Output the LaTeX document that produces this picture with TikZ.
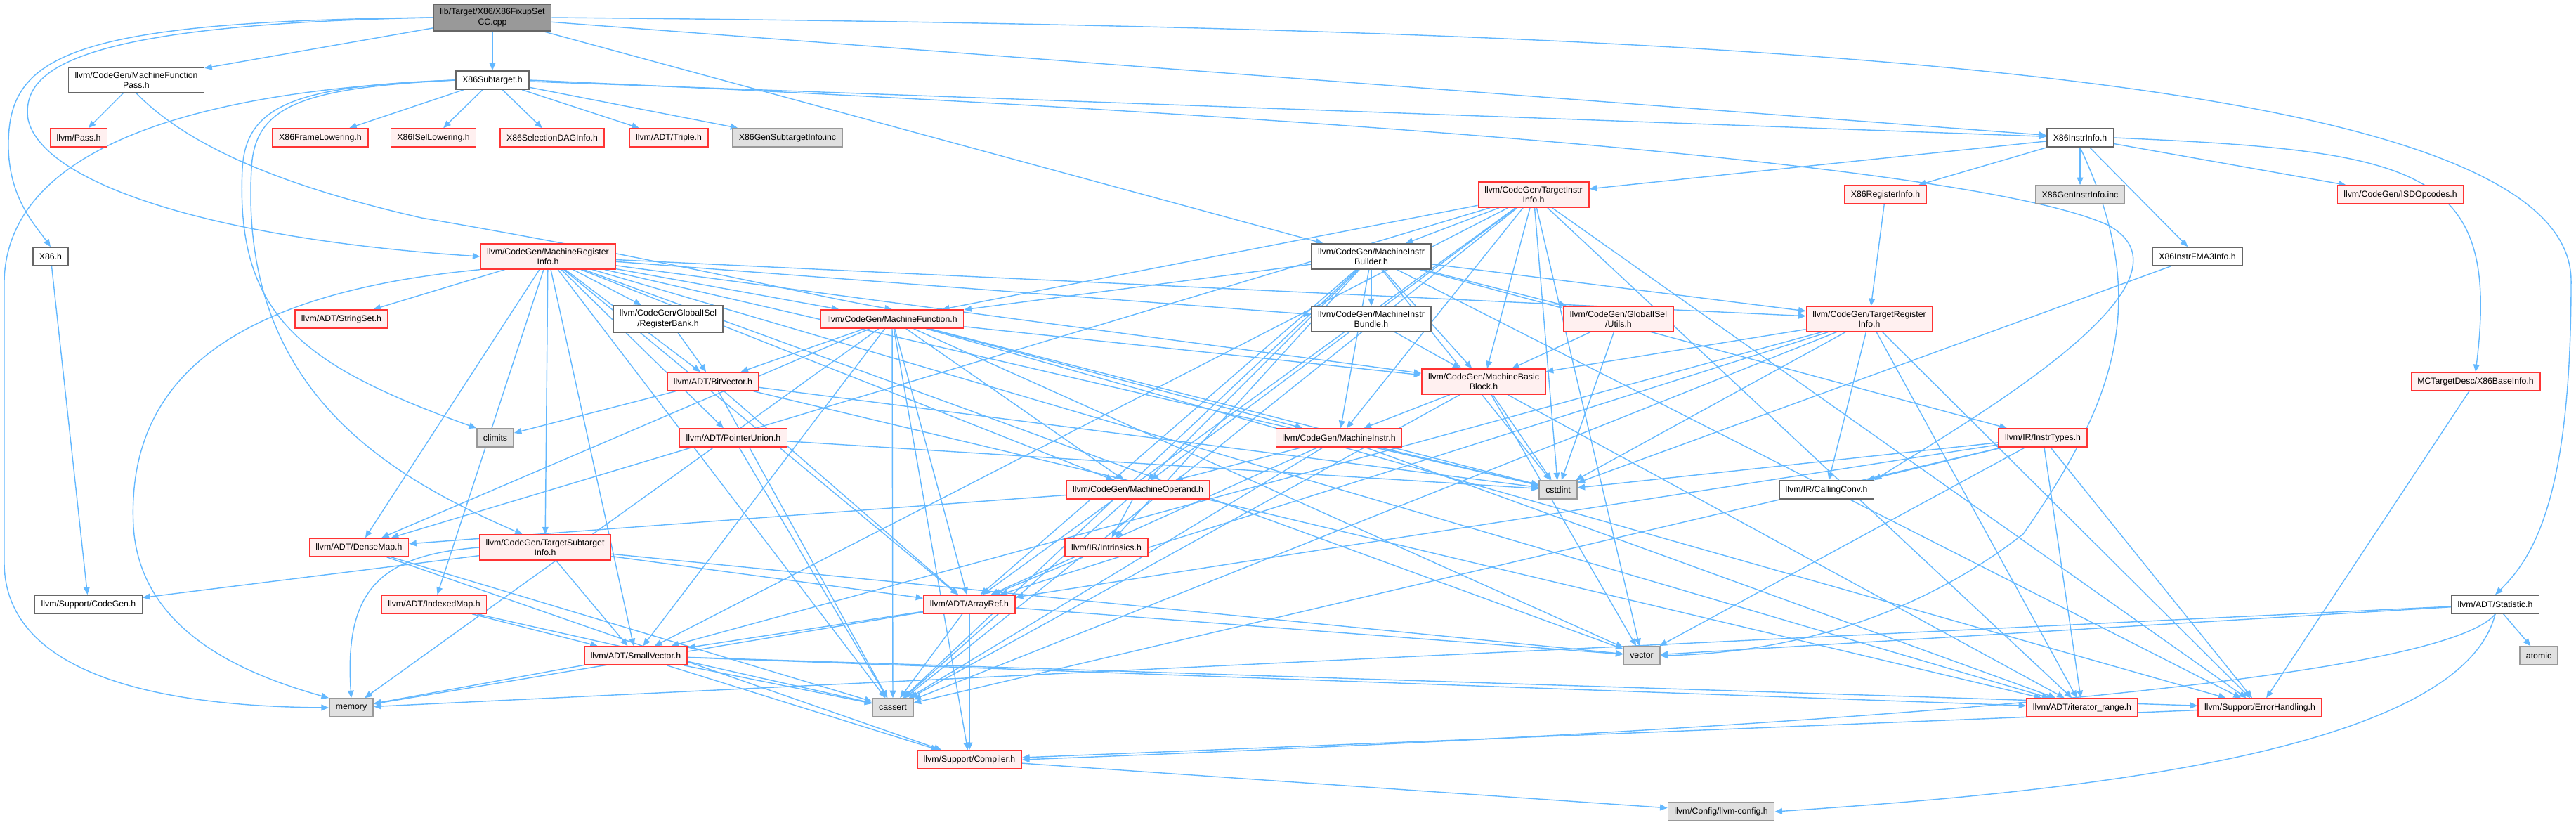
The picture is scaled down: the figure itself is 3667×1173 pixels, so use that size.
\documentclass[tikz,border=0pt]{standalone}
\usepackage{fontspec}
\setmainfont{Liberation Sans}
\usepackage{xcolor}
\usetikzlibrary{arrows.meta}

\definecolor{edgeblue}{HTML}{63B8FF}
\definecolor{hdredge}{HTML}{666666}
\definecolor{rededge}{HTML}{FF3333}
\definecolor{redfill}{HTML}{FFF0F0}
\definecolor{sysedge}{HTML}{999999}
\definecolor{sysfill}{HTML}{E0E0E0}
\definecolor{rootfill}{HTML}{999999}

\pgfdeclarelayer{bg}
\pgfsetlayers{bg,main}

\begin{document}
\begin{tikzpicture}[x=0.02cm, y=-0.02cm,
    hdr/.style={draw=hdredge, fill=white, line width=0.9pt, minimum height=0.52cm,
      inner xsep=0.18cm, inner ysep=3.5pt, align=center, font=\fontsize{7}{8.2}\selectfont},
    redhdr/.style={hdr, draw=rededge, fill=redfill},
    syshdr/.style={hdr, draw=sysedge, fill=sysfill},
    srcfile/.style={hdr, fill=rootfill},
    arr/.style={-{Triangle[length=6pt, width=5pt]}, draw=edgeblue, line width=0.8pt}
  ]
    \useasboundingbox (0,0) rectangle (3667,1173);

    % Top rows
    \node[srcfile] (cpp)   at (701,25)   {lib/Target/X86/X86FixupSet\\CC.cpp};
    \node[hdr]     (mfp)   at (194,114)  {llvm/CodeGen/MachineFunction\\Pass.h};
    \node[hdr]     (sub)   at (701,114)  {X86Subtarget.h};
    \node[hdr]     (instr) at (2961,196) {X86InstrInfo.h};
    \node[redhdr]  (pass)  at (112,196)  {llvm/Pass.h};
    \node[redhdr]  (frame) at (456,196)  {X86FrameLowering.h};
    \node[redhdr]  (isel)  at (617,196)  {X86ISelLowering.h};
    \node[redhdr]  (sdag)  at (786,196)  {X86SelectionDAGInfo.h};
    \node[redhdr]  (triple) at (952,196) {llvm/ADT/Triple.h};
    \node[syshdr]  (gensub) at (1121,196) {X86GenSubtargetInfo.inc};
    \node[redhdr]  (tii)   at (2183,277) {llvm/CodeGen/TargetInstr\\Info.h};
    \node[redhdr]  (x86reg) at (2684,277) {X86RegisterInfo.h};
    \node[syshdr]  (geninstr) at (2961,277) {X86GenInstrInfo.inc};
    \node[redhdr]  (isd)   at (3417,277) {llvm/CodeGen/ISDOpcodes.h};

    % Middle rows
    \node[hdr]     (x86h)  at (72,365)   {X86.h};
    \node[redhdr]  (mri)   at (780,365)  {llvm/CodeGen/MachineRegister\\Info.h};
    \node[hdr]     (mib)   at (1952,365) {llvm/CodeGen/MachineInstr\\Builder.h};
    \node[hdr]     (fma3)  at (3128,365) {X86InstrFMA3Info.h};
    \node[redhdr]  (stringset) at (486,454) {llvm/ADT/StringSet.h};
    \node[hdr]     (regbank) at (951,454) {llvm/CodeGen/GlobalISel\\/RegisterBank.h};
    \node[redhdr]  (mf)    at (1270,454) {llvm/CodeGen/MachineFunction.h};
    \node[hdr]     (mibundle) at (1952,454) {llvm/CodeGen/MachineInstr\\Bundle.h};
    \node[redhdr]  (gisutils) at (2304,454) {llvm/CodeGen/GlobalISel\\/Utils.h};
    \node[redhdr]  (tri)   at (2661,454) {llvm/CodeGen/TargetRegister\\Info.h};
    \node[redhdr]  (bitvec) at (1015,543) {llvm/ADT/BitVector.h};
    \node[redhdr]  (mbb)   at (2112,543) {llvm/CodeGen/MachineBasic\\Block.h};
    \node[redhdr]  (baseinfo) at (3524,543) {MCTargetDesc/X86BaseInfo.h};
    \node[syshdr]  (climits) at (705,623) {climits};
    \node[redhdr]  (punion) at (1044,623) {llvm/ADT/PointerUnion.h};
    \node[redhdr]  (mi)    at (1906,623) {llvm/CodeGen/MachineInstr.h};
    \node[redhdr]  (instrtypes) at (2908,623) {llvm/IR/InstrTypes.h};
    \node[redhdr]  (mop)   at (1620,697) {llvm/CodeGen/MachineOperand.h};
    \node[syshdr]  (cstdint) at (2218,697) {cstdint};
    \node[hdr]     (callconv) at (2600,697) {llvm/IR/CallingConv.h};

    % Bottom rows
    \node[redhdr]  (densemap) at (511,779) {llvm/ADT/DenseMap.h};
    \node[redhdr]  (tsi)   at (776,779)  {llvm/CodeGen/TargetSubtarget\\Info.h};
    \node[redhdr]  (intrin) at (1575,779) {llvm/IR/Intrinsics.h};
    \node[hdr]     (cgen)  at (126,860)  {llvm/Support/CodeGen.h};
    \node[redhdr]  (imap)  at (618,860)  {llvm/ADT/IndexedMap.h};
    \node[redhdr]  (arrayref) at (1380,860) {llvm/ADT/ArrayRef.h};
    \node[hdr]     (stat)  at (3552,860) {llvm/ADT/Statistic.h};
    \node[redhdr]  (smallvec) at (905,933) {llvm/ADT/SmallVector.h};
    \node[syshdr]  (vector) at (2337,933) {vector};
    \node[syshdr]  (atomic) at (3614,933) {atomic};
    \node[syshdr]  (memory) at (500,1007) {memory};
    \node[syshdr]  (cassert) at (1271,1007) {cassert};
    \node[redhdr]  (iterrange) at (2964,1007) {llvm/ADT/iterator\_range.h};
    \node[redhdr]  (errh)  at (3217,1007) {llvm/Support/ErrorHandling.h};
    \node[redhdr]  (compiler) at (1380,1081) {llvm/Support/Compiler.h};
    \node[syshdr]  (config) at (2450,1155) {llvm/Config/llvm-config.h};

    \begin{pgfonlayer}{bg}
    % Root file
    \draw[arr] (cpp.west) .. controls (100,30) and (15,80) .. (12,200)
      .. controls (10,280) and (50,320) .. (x86h.north);
    \draw[arr] (cpp.west) .. controls (100,35) and (30,100) .. (40,170)
      .. controls (60,260) and (300,340) .. (mri.west);
    \draw[arr] (cpp.east) .. controls (2500,40) and (3660,100) .. (3660,400)
      .. controls (3660,700) and (3610,790) .. (stat.north);
    \foreach \t in {mfp,sub,mib,instr} \draw[arr] (cpp) -- (\t);

    % Subtarget and pass
    \draw[arr] (mfp) -- (pass);
    \draw[arr] (mfp.south) .. controls (260,200) and (380,260) .. (600,310)
      .. controls (950,370) and (1150,420) .. (mf.north);
    \foreach \t in {frame,isel,sdag,triple,gensub,instr}
      \draw[arr] (sub) -- (\t);
    \draw[arr] (sub.west) .. controls (420,122) and (350,150) .. (345,240)
      .. controls (335,450) and (430,520) .. (climits.north west);
    \draw[arr] (sub.west) .. controls (430,125) and (362,150) .. (358,240)
      .. controls (340,560) and (560,680) .. (tsi.150);
    \draw[arr] (sub.west) .. controls (250,130) and (10,220) .. (6,400)
      -- (6,800) .. controls (6,950) and (200,1005) .. (memory.west);
    \draw[arr] (sub.east) .. controls (1800,160) and (2800,230) .. (3000,320)
      .. controls (3150,400) and (2800,600) .. (callconv.north east);
    \draw[arr] (x86h) -- (cgen);

    % X86InstrInfo
    \foreach \t in {tii,x86reg,geninstr,isd,fma3} \draw[arr] (instr) -- (\t);
    \draw[arr] (instr.south) .. controls (3060,420) and (3020,560) .. (2880,760)
      .. controls (2700,900) and (2500,930) .. (vector.east);
    \draw[arr] (instr.east) .. controls (3450,215) and (3560,240) .. (baseinfo.north);
    \draw[arr] (x86reg) -- (tri);
    \draw[arr] (fma3) -- (cstdint);
    \draw[arr] (baseinfo) -- (errh);

    % CodeGen headers
    \foreach \t in {mib,mf,mbb,mi,mop,densemap,arrayref,smallvec,cassert,cstdint,vector,iterrange,errh}
      \draw[arr] (tii) -- (\t);
    \foreach \t in {stringset,regbank,mf,mibundle,mbb,tri,tsi,bitvec,punion,mop,densemap,imap,smallvec,arrayref,iterrange,cassert,cstdint,vector}
      \draw[arr] (mri) -- (\t);
    \draw[arr] (mri.south west) .. controls (300,420) and (180,560) .. (190,750)
      .. controls (200,900) and (350,960) .. (memory.north west);
    \foreach \t in {mf,mibundle,gisutils,tri,mbb,mi,mop,intrin,instrtypes,arrayref,errh,cassert,cstdint}
      \draw[arr] (mib) -- (\t);
    \foreach \t in {bitvec,mbb,mi,mop,densemap,arrayref,smallvec,compiler,cassert,cstdint,memory,vector,errh}
      \draw[arr] (mf) -- (\t);
    \draw[arr] (regbank) -- (bitvec);
    \draw[arr] (mibundle) -- (mbb);
    \foreach \t in {mbb,cstdint} \draw[arr] (gisutils) -- (\t);
    \foreach \t in {mbb,callconv,cstdint,arrayref,smallvec,iterrange,cassert,errh}
      \draw[arr] (tri) -- (\t);
    \foreach \t in {mi,iterrange,cassert,cstdint,vector} \draw[arr] (mbb) -- (\t);
    \foreach \t in {mop,cstdint,cassert,iterrange,arrayref} \draw[arr] (mi) -- (\t);
    \foreach \t in {intrin,densemap,cassert} \draw[arr] (mop) -- (\t);
    \draw[arr] (intrin) -- (arrayref);
    \foreach \t in {cstdint,callconv,arrayref,iterrange,errh,cassert,vector}
      \draw[arr] (instrtypes) -- (\t);
    \foreach \t in {arrayref,smallvec,cgen,vector} \draw[arr] (tsi) -- (\t);
    \draw[arr] (tsi.west) .. controls (540,790) and (490,840) .. (memory.north);

    % ADT and Support
    \foreach \t in {climits,cassert,arrayref,iterrange,cstdint} \draw[arr] (bitvec) -- (\t);
    \foreach \t in {cassert,cstdint} \draw[arr] (punion) -- (\t);
    \foreach \t in {compiler,cassert} \draw[arr] (densemap) -- (\t);
    \foreach \t in {smallvec,cassert} \draw[arr] (imap) -- (\t);
    \foreach \t in {memory,cassert,compiler,iterrange,errh} \draw[arr] (smallvec) -- (\t);
    \foreach \t in {smallvec,cassert,compiler,memory,vector} \draw[arr] (arrayref) -- (\t);
    \foreach \t in {atomic,memory,vector} \draw[arr] (stat) -- (\t);
    \draw[arr] (stat.south) .. controls (3450,1000) and (2000,1060) .. (compiler.east);
    \draw[arr] (stat.south) .. controls (3500,1080) and (2900,1130) .. (config.east);
    \draw[arr] (errh) -- (compiler);
    \draw[arr] (compiler) -- (config);
    \end{pgfonlayer}
\end{tikzpicture}
\end{document}
